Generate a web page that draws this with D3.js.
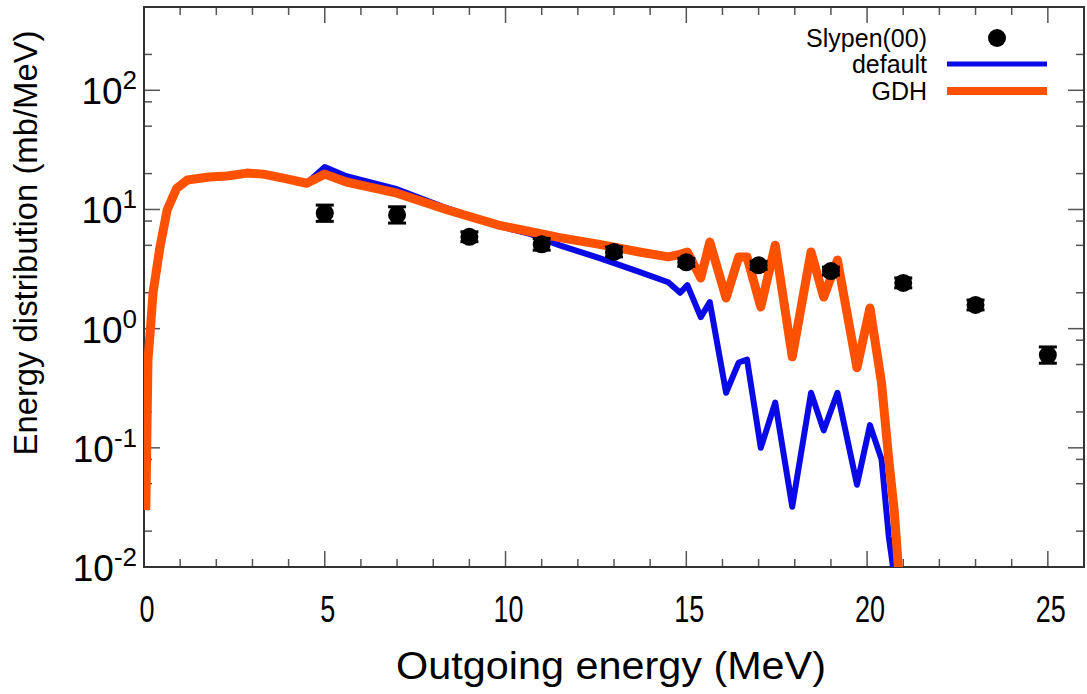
<!DOCTYPE html>
<html>
<head>
<meta charset="utf-8">
<script src="https://cdn.jsdelivr.net/npm/d3@7"></script>
<style>
  body { margin: 0; background: #fff; }
  text { font-family: "Liberation Sans", Arial, sans-serif; fill: #000; }
</style>
</head>
<body>
<svg width="1087" height="694"></svg>
<script>
// outgoing energy grid (MeV) shared by both calculations
const energies = [0.05, 0.11, 0.17, 0.25, 0.44, 0.64, 0.9, 1.2, 1.8, 2.3, 2.85, 3.3, 3.85, 4.5, 5.0, 5.6, 7.0, 8.4, 9.8, 10.7, 11.5, 12.6, 13.7, 14.5, 14.83, 15.03, 15.4, 15.65, 16.1, 16.45, 16.68, 17.06, 17.46, 17.93, 18.45, 18.8, 19.18, 19.72, 20.08, 20.4, 20.6, 20.75, 20.87];
const defaultValues = [0.03, 0.55, 0.92, 2.0, 4.8, 9.9, 15.0, 17.7, 18.7, 19.1, 20.2, 19.8, 18.3, 16.6, 22.7, 19.0, 14.8, 10.2, 7.3, 6.2, 5.0, 3.9, 3.0, 2.45, 2.0, 2.32, 1.25, 1.67, 0.29, 0.52, 0.55, 0.10, 0.24, 0.032, 0.29, 0.14, 0.29, 0.049, 0.155, 0.08, 0.018, 0.0085, 0.005];
const gdhValues = [0.03, 0.55, 0.92, 2.0, 4.8, 9.9, 15.0, 17.7, 18.7, 19.1, 20.2, 19.8, 18.3, 16.6, 19.8, 17.0, 13.7, 9.9, 7.4, 6.5, 5.8, 5.1, 4.4, 4.0, 4.2, 4.4, 2.66, 5.33, 1.81, 3.99, 3.99, 1.52, 5.02, 0.58, 4.40, 1.84, 3.77, 0.47, 1.49, 0.35, 0.08, 0.03, 0.0095];

// Slypen(00) measured points
const expEnergies = [5, 7, 9, 11, 13, 15, 17, 19, 21, 23, 25];
const expValues = [9.3, 9.0, 5.9, 5.1, 4.4, 3.6, 3.4, 3.04, 2.42, 1.58, 0.60];
const expErrors = [0.17, 0.17, 0.1, 0.12, 0.1, 0.08, 0.08, 0.08, 0.1, 0.1, 0.17]; // relative

const xTicks = [0, 5, 10, 15, 20, 25];
const yTicks = [-2, -1, 0, 1, 2]; // exponents of 10

const svg = d3.select('svg');
const plotLeft = 144, plotRight = 1084, plotTop = 7, plotBottom = 567;

const x = d3.scaleLinear().domain([0, 26]).range([plotLeft, plotRight]);
const y = d3.scaleLog().domain([0.01, 500]).range([plotBottom, plotTop]);

svg.append('clipPath').attr('id', 'plotclip')
  .append('rect')
    .attr('x', plotLeft).attr('y', plotTop)
    .attr('width', plotRight - plotLeft).attr('height', plotBottom - plotTop);

// ticks, pointing inward on all four sides
const minorX = d3.range(1, 26).filter(d => d % 5 !== 0);
const minorY = [];
for (let k = -2; k <= 2; k++) [2, 5, 8].forEach(m => { if (m * Math.pow(10, k) <= 500) minorY.push(m * Math.pow(10, k)); });

const ticks = svg.append('g').attr('stroke', '#555').attr('stroke-width', 1.5);
xTicks.concat(minorX).forEach(d => {
  const len = xTicks.includes(d) ? 16 : 8;
  ticks.append('line').attr('x1', x(d)).attr('x2', x(d)).attr('y1', plotBottom).attr('y2', plotBottom - len);
  ticks.append('line').attr('x1', x(d)).attr('x2', x(d)).attr('y1', plotTop).attr('y2', plotTop + len);
});
yTicks.map(k => Math.pow(10, k)).concat(minorY).forEach(d => {
  const len = minorY.includes(d) ? 8 : 16;
  ticks.append('line').attr('y1', y(d)).attr('y2', y(d)).attr('x1', plotLeft).attr('x2', plotLeft + len);
  ticks.append('line').attr('y1', y(d)).attr('y2', y(d)).attr('x1', plotRight).attr('x2', plotRight - len);
});

// frame
svg.append('rect')
  .attr('x', plotLeft).attr('y', plotTop)
  .attr('width', plotRight - plotLeft).attr('height', plotBottom - plotTop)
  .attr('fill', 'none').attr('stroke', '#333').attr('stroke-width', 2);

// x tick labels (narrow looking digits)
xTicks.forEach(d => {
  svg.append('g').attr('transform', `translate(${x(d) + 3},622) scale(0.75,1)`)
    .append('text')
      .attr('text-anchor', 'middle')
      .style('font-size', '36px')
      .text(d);
});

// y tick labels 10^k
yTicks.forEach(k => {
  const t = svg.append('text')
    .attr('x', 137).attr('y', y(Math.pow(10, k)) + 14)
    .attr('text-anchor', 'end')
    .style('font-size', '37px');
  t.append('tspan').text('10');
  t.append('tspan').attr('dy', -15).style('font-size', '26px').text(k);
});

// axis titles
svg.append('text')
  .attr('x', 611).attr('y', 679)
  .attr('text-anchor', 'middle')
  .attr('textLength', 430).attr('lengthAdjust', 'spacingAndGlyphs')
  .style('font-size', '39px')
  .text('Outgoing energy (MeV)');

svg.append('text')
  .attr('transform', 'translate(37,243) rotate(-90)')
  .attr('text-anchor', 'middle')
  .attr('textLength', 425).attr('lengthAdjust', 'spacingAndGlyphs')
  .style('font-size', '34px')
  .text('Energy distribution (mb/MeV)');

// calculated curves
const curves = svg.append('g').attr('clip-path', 'url(#plotclip)');
const line = d3.line().x(d => x(d[0])).y(d => y(d[1]));

curves.append('path')
  .datum(energies.map((e, i) => [e, defaultValues[i]]))
  .attr('d', line)
  .attr('fill', 'none').attr('stroke', '#0a0ae6').attr('stroke-width', 6)
  .attr('stroke-linejoin', 'round');

curves.append('path')
  .datum(energies.map((e, i) => [e, gdhValues[i]]))
  .attr('d', line)
  .attr('fill', 'none').attr('stroke', '#ff5100').attr('stroke-width', 9)
  .attr('stroke-linejoin', 'round');

// experimental points with error bars
const pts = svg.append('g');
expEnergies.forEach((e, i) => {
  const v = expValues[i], lo = y(v / (1 + expErrors[i])), hi = y(v * (1 + expErrors[i]));
  pts.append('line').attr('x1', x(e)).attr('x2', x(e)).attr('y1', lo).attr('y2', hi)
    .attr('stroke', '#000').attr('stroke-width', 2);
  [lo, hi].forEach(yy => pts.append('line')
    .attr('x1', x(e) - 9).attr('x2', x(e) + 9).attr('y1', yy).attr('y2', yy)
    .attr('stroke', '#000').attr('stroke-width', 3));
  pts.append('circle').attr('cx', x(e)).attr('cy', y(v)).attr('r', 9).attr('fill', '#000');
});

// legend
const legend = svg.append('g');
const legendRows = [
  { label: 'Slypen(00)', y: 38 },
  { label: 'default', y: 64, color: '#0a0ae6', width: 5 },
  { label: 'GDH', y: 91, color: '#ff5100', width: 8 }
];
legendRows.forEach(r => {
  legend.append('text')
    .attr('x', 927).attr('y', r.y + 9)
    .attr('text-anchor', 'end')
    .style('font-size', '25px')
    .text(r.label);
  if (r.color) {
    legend.append('line').attr('x1', 947).attr('x2', 1047).attr('y1', r.y).attr('y2', r.y)
      .attr('stroke', r.color).attr('stroke-width', r.width);
  } else {
    legend.append('circle').attr('cx', 997).attr('cy', r.y).attr('r', 9).attr('fill', '#000');
  }
});
</script>
</body>
</html>
